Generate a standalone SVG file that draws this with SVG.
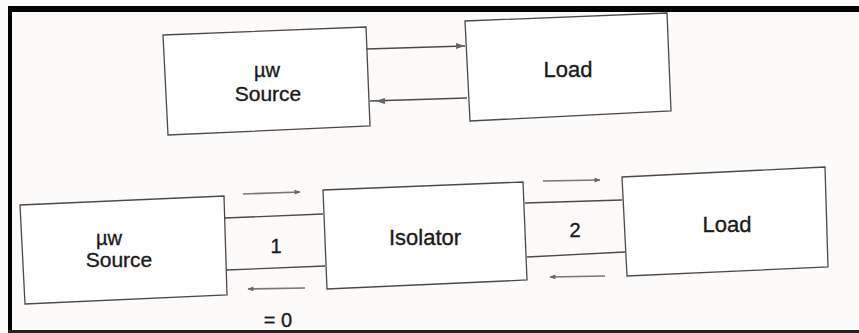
<svg xmlns="http://www.w3.org/2000/svg" width="859" height="333" viewBox="0 0 859 333">
  <defs>
    <marker id="head" viewBox="0 0 10 10" refX="9" refY="5" markerWidth="7" markerHeight="6" orient="auto" markerUnits="userSpaceOnUse">
      <path d="M0,1 L10,5 L0,9 Z" fill="#666"/>
    </marker>
    <style>
      .box { fill: #ffffff; stroke: #4a4a4a; stroke-width: 1.3; }
      .wire { stroke: #4a4a4a; stroke-width: 1.3; fill: none; }
      .dir { stroke: #777; stroke-width: 1.6; fill: none; marker-end: url(#head); }
      .lbl { font-family: "Liberation Sans", Arial, sans-serif; fill: #1a1a1a; stroke: #1a1a1a; stroke-width: 0.35; text-anchor: middle; }
    </style>
  </defs>

  <!-- page background and frame -->
  <rect x="0" y="0" width="859" height="333" fill="#fdfbf9"/>
  <rect x="8" y="6" width="851" height="6" fill="#000"/>
  <rect x="8" y="6" width="4" height="327" fill="#000"/>
  <rect x="8" y="330" width="851" height="3" fill="#222"/>

  <!-- upper arrangement: source directly on load -->
  <g id="src-top">
    <polygon class="box" points="163,35 366,27 370,126 168,135"/>
    <text class="lbl" x="267" y="77" font-size="20">µw</text>
    <text class="lbl" x="268" y="101" font-size="21">Source</text>
  </g>
  <g id="load-top">
    <polygon class="box" points="465,21 667,13 671,111 470,121"/>
    <text class="lbl" x="568" y="77" font-size="22">Load</text>
  </g>

  <!-- lower arrangement: source, isolator, load -->
  <g id="src-bottom">
    <polygon class="box" points="20,205 224,196 227,295 25,304"/>
    <text class="lbl" x="109" y="245" font-size="20">µw</text>
    <text class="lbl" x="119" y="267" font-size="21">Source</text>
  </g>
  <g id="isolator">
    <polygon class="box" points="323,190 523,182 527,280 327,289"/>
    <text class="lbl" x="425" y="245" font-size="22">Isolator</text>
  </g>
  <g id="load-bottom">
    <polygon class="box" points="622,177 825,167 828,267 627,276"/>
    <text class="lbl" x="727" y="232" font-size="22">Load</text>
  </g>

  <g id="connectors">
    <!-- upper pair -->
    <line class="wire" x1="366" y1="49" x2="465" y2="46"/>
    <path d="M456,43 L465,46 L456,49 Z" fill="#666"/>
    <line class="wire" x1="370" y1="101" x2="467" y2="98"/>
    <path d="M385,98 L375,101 L385,104 Z" fill="#666"/>

    <!-- port 1 -->
    <line class="wire" x1="225" y1="218" x2="323" y2="214"/>
    <line class="wire" x1="226" y1="270" x2="325" y2="266"/>
    <line class="dir" x1="243" y1="194" x2="300" y2="192"/>
    <line class="dir" x1="305" y1="288" x2="248" y2="289"/>

    <!-- port 2 -->
    <line class="wire" x1="525" y1="203" x2="622" y2="200"/>
    <line class="wire" x1="527" y1="257" x2="625" y2="252"/>
    <line class="dir" x1="543" y1="181" x2="600" y2="180"/>
    <line class="dir" x1="605" y1="276" x2="550" y2="277"/>
  </g>

  <text class="lbl" x="276" y="253" font-size="20">1</text>
  <text class="lbl" x="575" y="237" font-size="20">2</text>
  <text class="lbl" x="278" y="327" font-size="20">= 0</text>
</svg>
